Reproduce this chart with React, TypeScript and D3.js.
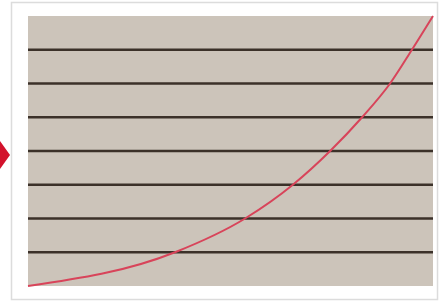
import * as d3 from "d3";
import { useEffect, useRef } from "react";

// curve points: x as fraction of plot width, y as grid level
const curveX = [0, 0.363, 0.536, 0.654, 0.746, 0.825, 0.894, 0.948, 1.0];
const curveY = [0, 1, 2, 3, 4, 5, 6, 7, 8];
const gridLevels = [1, 2, 3, 4, 5, 6, 7];

const App = () => {
  const svgRef = useRef<SVGSVGElement>(null);

  useEffect(() => {
    const svg = d3.select(svgRef.current);
    svg.selectAll("*").remove();

    const margin = { top: 16, right: 6, bottom: 16, left: 28 };
    const width = 439 - margin.left - margin.right;
    const height = 302 - margin.top - margin.bottom;

    // outer frame
    svg
      .append("rect")
      .attr("x", 11.5)
      .attr("y", 2.5)
      .attr("width", 426)
      .attr("height", 297)
      .attr("fill", "#fff")
      .attr("stroke", "#dcdcdc")
      .attr("stroke-width", 1.5);

    // red arrow on the left
    svg
      .append("path")
      .attr("d", "M0,141 L10,155 L0,169 Z")
      .attr("fill", "#d3122c");

    const chart = svg
      .append("g")
      .attr("transform", `translate(${margin.left},${margin.top})`);

    const xScale = d3.scaleLinear().domain([0, 1]).range([0, width]);
    const yScale = d3.scaleLinear().domain([0, 8]).range([height, 0]);

    chart
      .append("rect")
      .attr("width", width)
      .attr("height", height)
      .attr("fill", "#ccc4ba");

    chart
      .selectAll("line.grid")
      .data(gridLevels)
      .join("line")
      .attr("class", "grid")
      .attr("x1", 0)
      .attr("x2", width)
      .attr("y1", (d) => yScale(d))
      .attr("y2", (d) => yScale(d))
      .attr("stroke", "#3b3129")
      .attr("stroke-width", 2.5);

    const points = curveX.map((x, i) => [x, curveY[i]] as [number, number]);
    chart
      .append("path")
      .datum(points)
      .attr("fill", "none")
      .attr("stroke", "#d8445a")
      .attr("stroke-width", 2)
      .attr(
        "d",
        d3
          .line<[number, number]>()
          .x((d) => xScale(d[0]))
          .y((d) => yScale(d[1]))
          .curve(d3.curveMonotoneX)
      );
  }, []);

  return (
    <svg
      ref={svgRef}
      width={439}
      height={302}
      style={{ position: "absolute", left: 0, top: 0 }}
    />
  );
};

export default App;
